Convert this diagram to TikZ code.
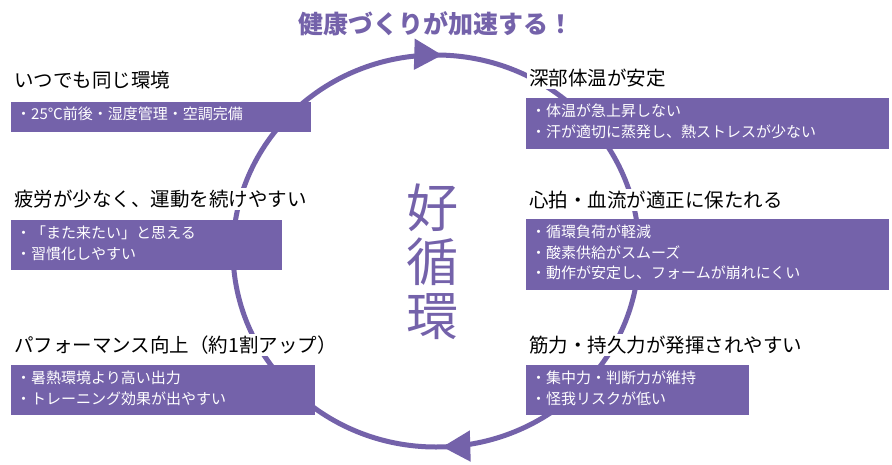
\documentclass[tikz,border=0pt]{standalone}
\usepackage{fontspec}
\setmainfont{Noto Sans CJK JP}
\usetikzlibrary{positioning,arrows.meta,decorations.markings}
\definecolor{loopviolet}{HTML}{7462AA}
\tikzset{
  head/.style={anchor=west,fill=white,inner sep=2pt,font=\fontsize{19.5}{21}\selectfont},
  panel/.style={anchor=north west,fill=loopviolet,text=white,inner sep=5pt,align=left,
    font=\fontsize{15}{20.5}\selectfont},
}
\begin{document}
\begin{tikzpicture}[x=1pt,y=-1pt]
\useasboundingbox (0,0) rectangle (892,464);
\node[font=\bfseries\fontsize{25}{27}\selectfont,text=loopviolet] (title) at (436,24) {健康づくりが加速する！};
% cycle
\draw[loopviolet,line width=5pt,
  postaction={decorate,decoration={markings,
    mark=at position 0.245 with {\arrow{Triangle[length=28pt,width=30pt]}},
    mark=at position 0.755 with {\arrow{Triangle[length=28pt,width=30pt]}}}}]
  (436,251) ellipse [x radius=203, y radius=196];
\node[text=loopviolet,font=\fontsize{52}{54}\selectfont,align=center] (loop) at (432,262) {好\\循\\環};
% left side
\node[head] (envh) at (12,80) {いつでも同じ環境};
\path[fill=loopviolet] (11,102) rectangle (311,132);
\node[panel,text width=290pt] (envb) at (11,102) {・25℃前後・湿度管理・空調完備};
\node[head] (fatigueh) at (12,199) {疲労が少なく、運動を続けやすい};
\path[fill=loopviolet] (11,220) rectangle (282,270);
\node[panel] (fatigueb) at (11,221) {・「また来たい」と思える\\・習慣化しやすい};
\node[head] (perfh) at (12,345) {パフォーマンス向上（約1割アップ）};
\path[fill=loopviolet] (11,365) rectangle (315,415);
\node[panel] (perfb) at (11,366) {・暑熱環境より高い出力\\・トレーニング効果が出やすい};
% right side
\node[head] (temph) at (527,78) {深部体温が安定};
\path[fill=loopviolet] (526,98) rectangle (889,149);
\node[panel] (tempb) at (526,99) {・体温が急上昇しない\\・汗が適切に蒸発し、熱ストレスが少ない};
\node[head] (hearth) at (527,200) {心拍・血流が適正に保たれる};
\path[fill=loopviolet] (526,219) rectangle (889,290);
\node[panel] (heartb) at (526,220) {・循環負荷が軽減\\・酸素供給がスムーズ\\・動作が安定し、フォームが崩れにくい};
\node[head] (powerh) at (527,345) {筋力・持久力が発揮されやすい};
\path[fill=loopviolet] (526,365) rectangle (749,415);
\node[panel] (powerb) at (526,366) {・集中力・判断力が維持\\・怪我リスクが低い};
\end{tikzpicture}
\end{document}
